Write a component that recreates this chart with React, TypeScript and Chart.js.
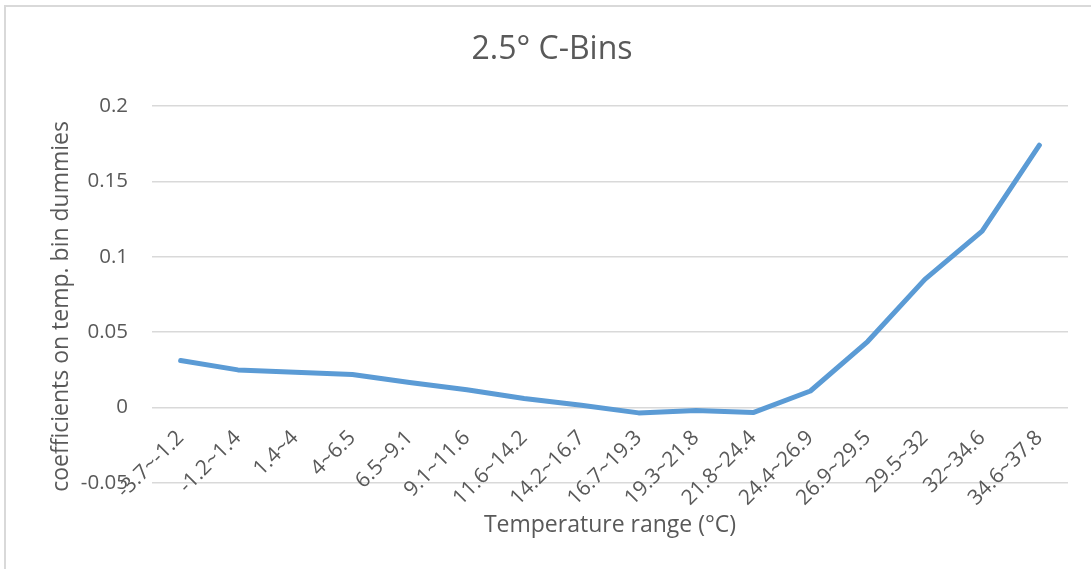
import React, { useEffect, useRef } from "react";
import { Chart, registerables } from "chart.js";

Chart.register(...registerables);

const categories = [
  "-3.7~-1.2", "-1.2~1.4", "1.4~4", "4~6.5", "6.5~9.1", "9.1~11.6",
  "11.6~14.2", "14.2~16.7", "16.7~19.3", "19.3~21.8", "21.8~24.4",
  "24.4~26.9", "26.9~29.5", "29.5~32", "32~34.6", "34.6~37.8",
];
const coefficients = [
  0.0312, 0.025, 0.0234, 0.0219, 0.0167, 0.0118, 0.006, 0.0015,
  -0.0035, -0.002, -0.0033, 0.011, 0.0438, 0.085, 0.117, 0.174,
];
const yMin = -0.05;
const yMax = 0.2;
const yStep = 0.05;

const chartTitle = "2.5° C-Bins";
const xTitle = "Temperature range (°C)";
const yTitle = "coefficients on temp. bin dummies";

const FAMILY = "'Open Sans', sans-serif";
const TEXT = "#595959";
const GRID = "#d9d9d9";

export default function App() {
  const ref = useRef<HTMLCanvasElement | null>(null);
  useEffect(() => {
    if (!ref.current) return;
    const chart = new Chart(ref.current, {
      type: "line",
      data: {
        labels: categories,
        datasets: [
          {
            data: coefficients,
            borderColor: "#5b9bd5",
            backgroundColor: "#5b9bd5",
            borderWidth: 5,
            pointRadius: 0,
            tension: 0,
            fill: false,
            borderCapStyle: "round",
            borderJoinStyle: "round",
          },
        ],
      },
      options: {
        responsive: false,
        animation: false,
        layout: { padding: { left: 36, right: 23, top: 0, bottom: 86 } },
        plugins: {
          legend: { display: false },
          tooltip: { enabled: false },
          title: {
            display: true,
            text: chartTitle,
            color: TEXT,
            font: { family: FAMILY, size: 32, weight: "normal" },
            padding: { top: 31, bottom: 36.6 },
          },
        },
        scales: {
          x: {
            type: "category",
            position: { y: 0 } as any,
            offset: true,
            grid: { display: false, drawTicks: false },
            border: { display: false },
            ticks: {
              autoSkip: false,
              minRotation: 45,
              maxRotation: 45,
              padding: 18,
              color: TEXT,
              font: { family: FAMILY, size: 21 },
            },
            title: {
              display: true,
              text: xTitle,
              color: TEXT,
              font: { family: FAMILY, size: 23 },
              padding: { top: -17, bottom: 0 },
            },
          },
          y: {
            min: yMin,
            max: yMax,
            grid: { color: GRID, lineWidth: 1.5, drawTicks: false },
            border: { display: false },
            ticks: {
              stepSize: yStep,
              padding: 24,
              color: TEXT,
              font: { family: FAMILY, size: 20.5 },
              callback: (v: any) => String(Math.round(Number(v) * 100) / 100),
            },
            title: {
              display: true,
              text: yTitle + "\u00A0\u00A0\u00A0\u00A0",
              color: TEXT,
              font: { family: FAMILY, size: 23 },
              padding: { top: 12, bottom: 0 },
            },
            afterFit: (s: any) => {
              s.width = 116;
            },
          },
        },
      },
    });
    return () => chart.destroy();
  }, []);

  return (
    <div
      style={{
        position: "fixed",
        left: 0,
        top: 0,
        width: 1091,
        height: 569,
        overflow: "hidden",
        background: "#fff",
      }}
    >
      <div
        style={{
          position: "absolute",
          left: 4,
          top: 5,
          width: 1300,
          height: 800,
          border: "2px solid #d9d9d9",
          boxSizing: "border-box",
        }}
      />
      <canvas
        ref={ref}
        width={1091}
        height={569}
        style={{ position: "absolute", left: 0, top: 0, width: 1091, height: 569 }}
      />
    </div>
  );
}
